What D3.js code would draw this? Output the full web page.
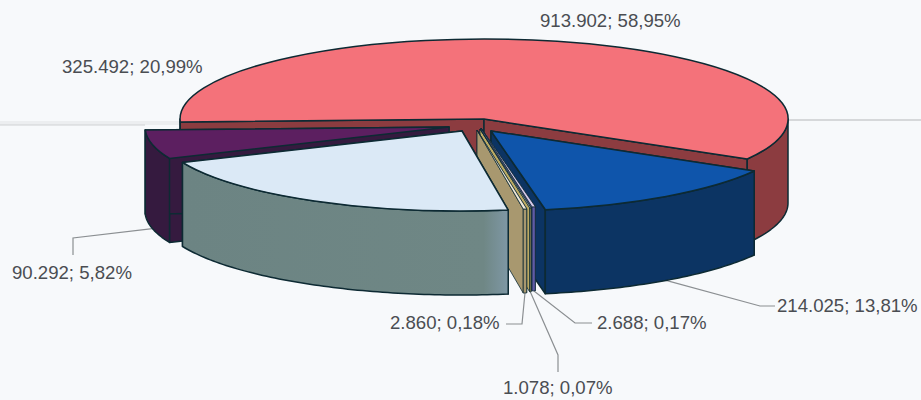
<!DOCTYPE html>
<html><head><meta charset="utf-8">
<script src="https://cdn.jsdelivr.net/npm/d3@7"></script>
<style>html,body{margin:0;padding:0;background:#f7f9fb}svg{display:block}text{font-family:"Liberation Sans",Arial,sans-serif;font-size:18.6px;fill:#4a4d52}</style>
</head><body><svg id="c" width="921" height="400"></svg>
<script>
const categories = ["A","B","C","D","E","F","G"];
const values = [913902, 214025, 2688, 1078, 2860, 325492, 90292];
const valueLabels = ["913.902; 58,95%","214.025; 13,81%","2.688; 0,17%","1.078; 0,07%","2.860; 0,18%","325.492; 20,99%","90.292; 5,82%"];

const topColors  = ["#f4727a","#0f55ab","#d5c8e8","#f8f4d8","#efe8d8","#dbe9f6","#5c1f60"];
const wallColors = ["#8c3c40","#0c3463","#5f5aa6","#bcaa64","#a8986f","url(#lightWall)","#351a3f"];
const sliceShift = [[0,0],[7,12],[-3,9],[-4,10],[-7,11],[-22,12],[-35,8]];
const labelPos = [[540,27],[777,312],[597,329],[503,394],[390,329],[62,73],[12,279]];
const leaderBends = [null,[[760,306],[775,306]],[[575,323],[592,323]],[[558,355],[558,372]],[[522,324],[506,324]],null,[[73,238],[73,255]]];

const cx = 484, cy = 119, rx = 304, ry = 80, depth = 84;
const svg = d3.select("#c");
const deg = Math.PI/180;
const pie = d3.pie().sort(null).startAngle(-92.2*deg).endAngle(267.8*deg);
const arcs = pie(values);
const arcGen = d3.arc().innerRadius(0).outerRadius(1);
const px = d3.scaleLinear().domain([-1,1]).range([-rx,rx]);
const py = d3.scaleLinear().domain([-1,1]).range([-ry,ry]);
const line = d3.line();
const stroke = "#0d2a33";

const grad = svg.append("defs").append("linearGradient").attr("id","lightWall")
  .attr("gradientUnits","userSpaceOnUse").attr("x1",185).attr("x2",506).attr("y1",0).attr("y2",0);
[[0,"#6c8483"],[.93,"#6f8785"],[1,"#7d96a2"]].forEach(s=>grad.append("stop").attr("offset",s[0]).attr("stop-color",s[1]));

// faint scan rule behind the pie
svg.append("rect").attr("x",0).attr("y",121).attr("width",180).attr("height",4).attr("fill","#eceef0");
svg.append("line").attr("x1",0).attr("x2",145).attr("y1",125).attr("y2",125).attr("stroke","#cfd1d3").attr("stroke-width",1.2);
svg.append("line").attr("x1",788).attr("x2",921).attr("y1",120).attr("y2",120).attr("stroke","#d6d8da").attr("stroke-width",2);

function pt(a,i,extra){ const s=sliceShift[i];
  return [cx+s[0]+px(Math.sin(a)), cy+s[1]-py(Math.cos(a))+(extra||0)]; }
function frontRanges(a0,a1){
  const out=[];
  [[-1.5*Math.PI,-.5*Math.PI],[.5*Math.PI,1.5*Math.PI]].forEach(r=>{
    const s=Math.max(a0,r[0]), e=Math.min(a1,r[1]);
    if(e>s) out.push([s,e]);
  });
  return out;
}
function drawSlice(i){
  const d=arcs[i], s=sliceShift[i], g=svg.append("g");
  const sw = (d.endAngle-d.startAngle)<2*deg ? .8 : 1.5;
  const face=(a)=>{ const c=[cx+s[0],cy+s[1]], o=pt(a,i);
    g.append("path").attr("d",line([c,o,[o[0],o[1]+depth],[c[0],c[1]+depth]])+"Z")
     .attr("fill",wallColors[i]).attr("stroke",stroke).attr("stroke-width",sw).attr("stroke-linejoin","round"); };
  face(d.startAngle); face(d.endAngle);
  frontRanges(d.startAngle,d.endAngle).forEach(([a,b])=>{
    const n=Math.max(2,Math.ceil((b-a)/deg));
    const as=d3.range(n+1).map(k=>a+(b-a)*k/n);
    const t=as.map(x=>pt(x,i)), bt=as.map(x=>pt(x,i,depth)).reverse();
    g.append("path").attr("d",line(t.concat(bt))+"Z").attr("fill",wallColors[i]).attr("stroke",stroke).attr("stroke-width",sw).attr("stroke-linejoin","round");
  });
  g.append("path").attr("d",arcGen(d))
   .attr("transform",`translate(${cx+s[0]},${cy+s[1]}) scale(${rx},${ry})`)
   .attr("fill",topColors[i]).attr("stroke",stroke).attr("stroke-width",sw).attr("vector-effect","non-scaling-stroke").attr("stroke-linejoin","round");
}
valueLabels.forEach((_,i)=>{
  if(!leaderBends[i]) return;
  const d=arcs[i], m=(d.startAngle+d.endAngle)/2;
  svg.append("path").attr("d",line([pt(m,i,depth)].concat(leaderBends[i]))).attr("fill","none").attr("stroke","#8b8f92").attr("stroke-width",1.2);
});
[0,6,1,2,3,4,5].forEach(drawSlice);
svg.selectAll("text.l").data(valueLabels).join("text").attr("class","l")
  .attr("x",(d,i)=>labelPos[i][0]).attr("y",(d,i)=>labelPos[i][1]).text(d=>d);
</script></body></html>
